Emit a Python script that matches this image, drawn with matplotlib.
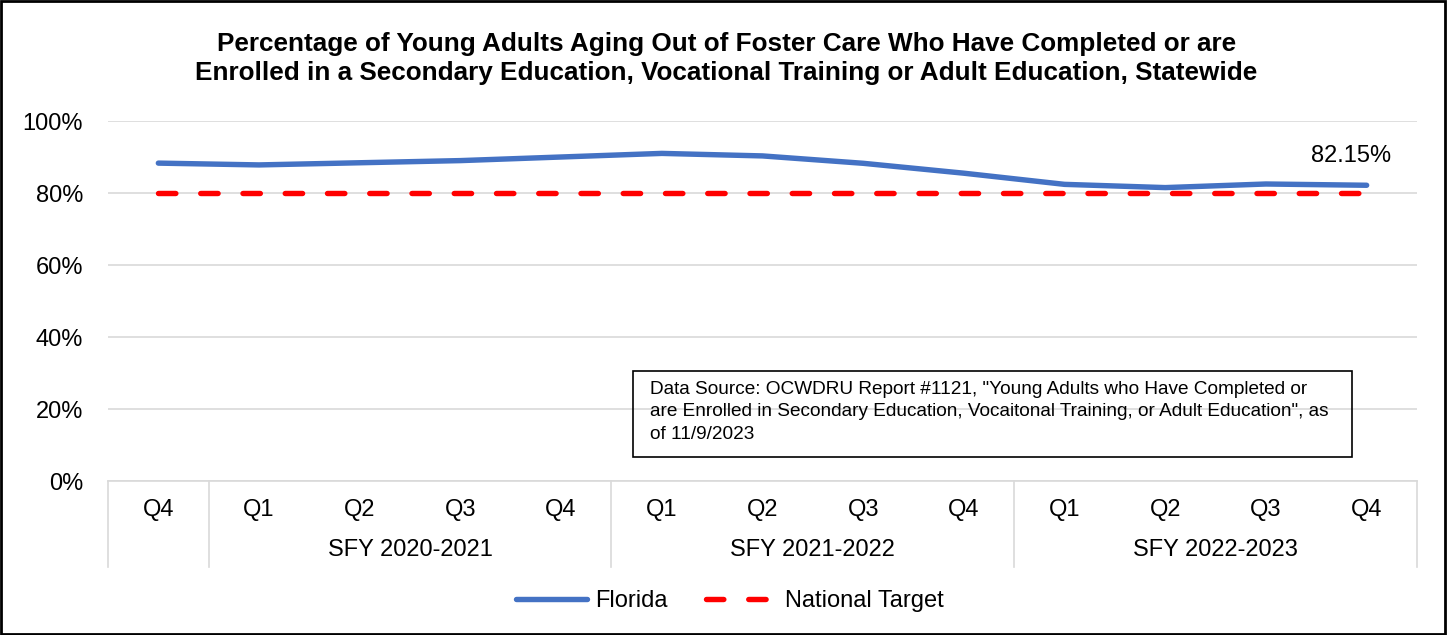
import numpy as np
import matplotlib.pyplot as plt
from matplotlib.patches import Rectangle
from matplotlib.transforms import blended_transform_factory

plt.rcParams['font.family'] = ['Liberation Sans', 'DejaVu Sans']

quarters = ["Q4", "Q1", "Q2", "Q3", "Q4", "Q1", "Q2", "Q3", "Q4", "Q1", "Q2", "Q3", "Q4"]
groups = ["", "SFY 2020-2021", "SFY 2021-2022", "SFY 2022-2023"]
group_sizes = [1, 4, 4, 4]
florida = [88.3, 87.8, 88.4, 89.0, 90.0, 91.0, 90.3, 88.25, 85.5, 82.4, 81.5, 82.5, 82.15]
target = [80] * 13

W, H = 1448, 635
fig = plt.figure(figsize=(W / 100, H / 100), dpi=100)
ax = fig.add_axes([108 / W, 1 - 481 / H, (1417 - 108) / W, (481 - 121) / H])

x = np.arange(len(quarters))
ax.plot(x, florida, color="#4472C4", lw=3.9, solid_capstyle="round", label="Florida", zorder=3)
ax.plot(x, target, color="#FF0000", lw=3.9, ls=(0, (3.2, 4.6)), dash_capstyle="round",
        label="National Target", zorder=2)

ax.set_xlim(-0.5, len(quarters) - 0.5)
ax.set_ylim(0, 100)
ax.set_yticks(np.arange(0, 101, 20))
ax.set_yticklabels([f"{v}%" for v in range(0, 101, 20)], fontsize=17)
ax.yaxis.grid(True, color="#D9D9D9", lw=1.2)
ax.set_axisbelow(True)
ax.tick_params(axis="y", length=0, pad=18)
ax.set_xticks([])
for s in ["top", "right", "left"]:
    ax.spines[s].set_visible(False)
ax.spines["bottom"].set_color("#D9D9D9")
ax.spines["bottom"].set_linewidth(1.2)

# two-level category axis
tr = blended_transform_factory(ax.transData, ax.transAxes)
for i, q in enumerate(quarters):
    ax.text(i, -0.08, q, transform=tr, ha="center", va="center", fontsize=17)
edges = np.cumsum([0] + group_sizes) - 0.5
for e in edges:
    ax.plot([e, e], [0, -0.24], transform=tr, color="#D9D9D9", lw=1.2, clip_on=False)
for g, a, b in zip(groups, edges[:-1], edges[1:]):
    if g:
        ax.text((a + b) / 2, -0.193, g, transform=tr, ha="center", va="center", fontsize=17)

ax.annotate(f"{florida[-1]:.2f}%", (x[-1], florida[-1]), xytext=(-11, 21),
            textcoords="offset points", ha="center", va="center", fontsize=17)

fig.text(0.5015, 1 - 58.5 / H,
         "Percentage of Young Adults Aging Out of Foster Care Who Have Completed or are\n"
         "Enrolled in a Secondary Education, Vocational Training or Adult Education, Statewide",
         ha="center", va="center", fontsize=18.8, fontweight="bold", linespacing=1.22)

fig.text(650 / W, 1 - 412 / H,
         "Data Source: OCWDRU Report #1121, \"Young Adults who Have Completed or\n"
         "are Enrolled in Secondary Education, Vocaitonal Training, or Adult Education\", as\n"
         "of 11/9/2023",
         ha="left", va="center", fontsize=13.7, linespacing=1.42)
fig.patches.append(Rectangle((633 / W, 1 - 457 / H), (1352 - 633) / W, (457 - 371) / H,
                             transform=fig.transFigure, fill=False, ec="black", lw=1.2))

fig.legend(loc="center", bbox_to_anchor=(730 / W, 1 - 601 / H), ncol=2, frameon=False,
           fontsize=17, handlelength=3.0, handletextpad=0.35, columnspacing=1.65)

fig.patches.append(Rectangle((0.001, 0.002), 0.997, 0.996, transform=fig.transFigure,
                             fill=False, ec="black", lw=2))

fig.savefig("out.png", dpi=100)
